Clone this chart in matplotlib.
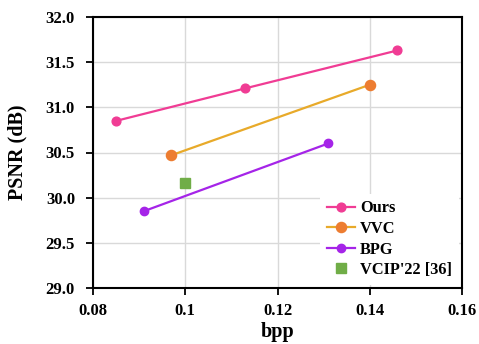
import matplotlib
matplotlib.use("Agg")
import matplotlib.pyplot as plt

ours_x = [0.085, 0.113, 0.146]
ours_y = [30.85, 31.21, 31.63]
vvc_x = [0.097, 0.140]
vvc_y = [30.47, 31.25]
bpg_x = [0.091, 0.131]
bpg_y = [29.85, 30.60]
vcip_x = [0.100]
vcip_y = [30.16]
xticks = [0.08, 0.10, 0.12, 0.14, 0.16]
xtick_labels = ["0.08", "0.1", "0.12", "0.14", "0.16"]
yticks = [29.0, 29.5, 30.0, 30.5, 31.0, 31.5, 32.0]

plt.rcParams['font.family'] = ['Liberation Serif', 'DejaVu Serif']
plt.rcParams['font.weight'] = 'bold'

fig = plt.figure(figsize=(4.79, 3.44), dpi=100)
ax = fig.add_axes([93/479, 1-288/344, (462-93)/479, (288-17)/344])

ax.plot(ours_x, ours_y, '-o', color='#f03c94', lw=1.6, ms=6.3, label='Ours', zorder=3)
ax.plot(vvc_x, vvc_y, '-o', color='#e8aa2a', mfc='#ed7d31', mec='#ed7d31', lw=1.6, ms=7.3, label='VVC', zorder=3)
ax.plot(bpg_x, bpg_y, '-o', color='#a524e8', lw=1.6, ms=6, label='BPG', zorder=3)
ax.plot(vcip_x, vcip_y, 's', color='#70ad47', ms=7, ls='none', label="VCIP'22 [36]", zorder=3)

ax.set_xlim(0.08, 0.16)
ax.set_ylim(29.0, 32.0)
ax.set_xticks(xticks)
ax.set_xticklabels(xtick_labels)
ax.set_yticks(yticks)
ax.set_yticklabels([f"{v:.1f}" for v in yticks])
ax.grid(True, color='#d9d9d9', lw=1.0, zorder=0)
ax.set_axisbelow(True)
for s in ax.spines.values():
    s.set_linewidth(1.5)
    s.set_color('black')
ax.tick_params(direction='out', length=5, width=1.3, labelsize=12)
ax.tick_params(axis='y', pad=8)
ax.tick_params(axis='x', pad=6)
for lab in ax.get_xticklabels() + ax.get_yticklabels():
    lab.set_fontweight('bold')
ax.set_xlabel('bpp', fontsize=14.5, fontweight='bold', labelpad=2)
ax.set_ylabel('PSNR (dB)', fontsize=14.5, fontweight='bold', labelpad=13)

leg = ax.legend(loc='lower right', frameon=True, handlelength=1.75,
                handletextpad=0.3, labelspacing=0.28, borderaxespad=0.2,
                borderpad=0.4, prop={'weight': 'bold', 'size': 11.8})
leg.get_frame().set_edgecolor('none')
leg.get_frame().set_facecolor('white')
leg.get_frame().set_alpha(1)

fig.savefig('out.png', dpi=100)
